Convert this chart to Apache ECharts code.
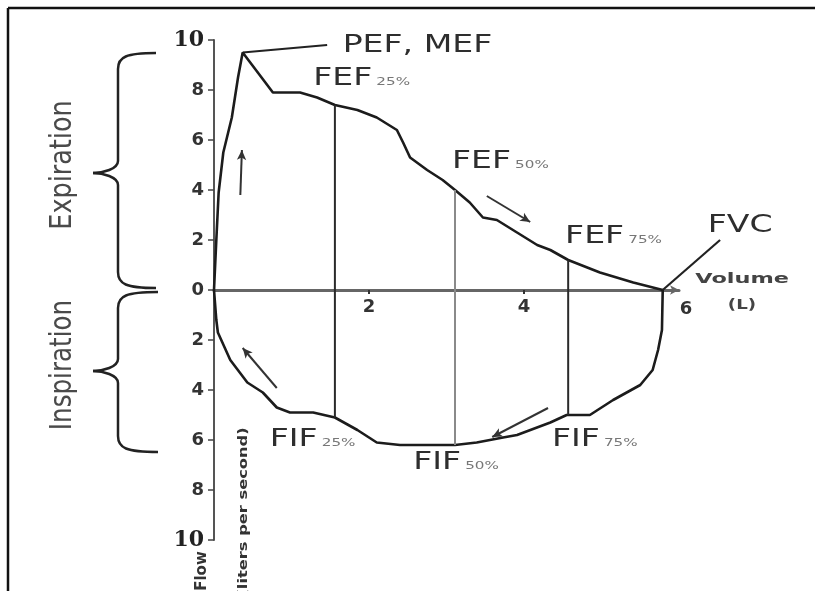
<!DOCTYPE html>
<html>
<head>
<meta charset="utf-8">
<script src="https://cdn.jsdelivr.net/npm/echarts@6/dist/echarts.min.js"></script>
<style>
  html, body { margin: 0; padding: 0; background: #fff; }
  #main { width: 815px; height: 591px; }
</style>
</head>
<body>
<div id="main"></div>
<script>
// Flow-volume loop: expiratory limb above zero, inspiratory limb below.
const expVolume = [0, 0.03, 0.06, 0.12, 0.23, 0.31, 0.37, 0.76, 1.11, 1.33, 1.56, 1.85, 2.10, 2.36, 2.44, 2.53, 2.75, 2.95, 3.11, 3.30, 3.47, 3.65, 3.91, 4.17, 4.34, 4.57, 4.98, 5.41, 5.79];
const expFlow   = [0, 2.0, 3.9, 5.5, 6.9, 8.5, 9.5, 7.9, 7.9, 7.7, 7.4, 7.2, 6.9, 6.4, 5.9, 5.3, 4.8, 4.4, 4.0, 3.5, 2.9, 2.8, 2.3, 1.8, 1.6, 1.2, 0.7, 0.3, 0];

const inspVolume = [0, 0.03, 0.05, 0.21, 0.43, 0.63, 0.81, 0.98, 1.28, 1.56, 1.85, 2.10, 2.40, 2.83, 3.11, 3.39, 3.73, 3.91, 4.34, 4.55, 4.85, 5.15, 5.50, 5.66, 5.73, 5.78, 5.79];
const inspFlow   = [0, -1.2, -1.7, -2.8, -3.7, -4.1, -4.7, -4.9, -4.9, -5.1, -5.6, -6.1, -6.2, -6.2, -6.2, -6.1, -5.9, -5.8, -5.3, -5.0, -5.0, -4.4, -3.8, -3.2, -2.4, -1.6, 0];

// 25 %, 50 %, 75 % of vital capacity: expiratory and inspiratory flows there
const markVolume = [1.56, 3.11, 4.57];
const fefValues  = [7.4, 4.0, 1.2];
const fifValues  = [-5.1, -6.2, -5.0];
const markPct    = ['25%', '50%', '75%'];

const peak = [0.37, 9.5];
const fvc  = [5.79, 0];

const xTickValues  = [2, 4];
const xLabelValues = [2, 4, 6];

const pairs = (xs, ys) => xs.map((x, i) => [x, ys[i]]);

const chart = echarts.init(document.getElementById('main'));

const curveStyle = { color: '#1c1c1c', width: 2.6 };
const txtFont = "'DejaVu Sans', Verdana, sans-serif";

// text callouts placed in data space (left edge, vertical middle)
const notes = [
  { at: [1.66, 9.76], main: 'PEF, MEF', size: 24 },
  { at: [1.28, 8.44], main: 'FEF', sub: markPct[0] },
  { at: [3.07, 5.12], main: 'FEF', sub: markPct[1] },
  { at: [4.53, 2.12], main: 'FEF', sub: markPct[2] },
  { at: [6.37, 2.56], main: 'FVC', size: 24 },
  { at: [6.21, 0.44], main: 'Volume', size: 14, bold: true, scale: 1.6 },
  { at: [6.63, -0.6], main: '(L)', size: 14, bold: true, scale: 1.3 },
  { at: [0.72, -6.0], main: 'FIF', sub: markPct[0] },
  { at: [2.57, -6.92], main: 'FIF', sub: markPct[1] },
  { at: [4.36, -6.0], main: 'FIF', sub: markPct[2] }
];

// leader lines: [x1, y1, x2, y2]
const leaders = [
  [peak[0], peak[1], 1.46, 9.8],
  [fvc[0], fvc[1], 6.53, 2.0]
];

// direction arrows: [from, to]
const arrows = [
  [[0.34, 3.8], [0.36, 5.6]],
  [[3.52, 3.76], [4.08, 2.72]],
  [[0.81, -3.92], [0.37, -2.32]],
  [[4.31, -4.72], [3.59, -5.88]]
];

const markLineSeries = markVolume.map((v, i) => ({
  type: 'line', silent: true, showSymbol: false,
  data: [[v, fefValues[i]], [v, fifValues[i]]],
  lineStyle: { color: i === 1 ? '#8a8a8a' : '#2a2a2a', width: 2 }
}));

// curly brace built from straight and bezier pieces
function brace(xTip, xBar, xEnd, yTop, yMid, yBot) {
  const st = { stroke: '#222', lineWidth: 2.5, fill: null };
  return [
    { type: 'bezierCurve', shape: { x1: xEnd, y1: yTop, cpx1: xBar + 8, cpy1: yTop, cpx2: xBar, cpy2: yTop + 4, x2: xBar, y2: yTop + 16 }, style: st },
    { type: 'line', shape: { x1: xBar, y1: yTop + 16, x2: xBar, y2: yMid - 12 }, style: st },
    { type: 'bezierCurve', shape: { x1: xBar, y1: yMid - 12, cpx1: xBar, cpy1: yMid - 4, cpx2: xTip + 10, cpy2: yMid, x2: xTip, y2: yMid }, style: st },
    { type: 'bezierCurve', shape: { x1: xTip, y1: yMid, cpx1: xTip + 10, cpy1: yMid, cpx2: xBar, cpy2: yMid + 4, x2: xBar, y2: yMid + 12 }, style: st },
    { type: 'line', shape: { x1: xBar, y1: yMid + 12, x2: xBar, y2: yBot - 16 }, style: st },
    { type: 'bezierCurve', shape: { x1: xBar, y1: yBot - 16, cpx1: xBar, cpy1: yBot - 4, cpx2: xBar + 8, cpy2: yBot, x2: xEnd, y2: yBot }, style: st }
  ];
}

const option = {
  backgroundColor: '#fff',
  animation: false,
  grid: { left: 214, right: 136, top: 40, bottom: 51 },
  xAxis: {
    type: 'value', min: 0, max: 6, interval: 2,
    axisLine: { onZero: true, symbol: ['none', 'arrow'], symbolSize: [7, 9], lineStyle: { color: '#666', width: 3 } },
    axisTick: { show: true, length: 4, customValues: xTickValues, lineStyle: { color: '#333', width: 2 } },
    axisLabel: { show: false },
    splitLine: { show: false }
  },
  yAxis: {
    type: 'value', min: -10, max: 10, interval: 2,
    axisLine: { show: true, lineStyle: { color: '#555', width: 2 } },
    axisTick: { show: true, length: 6, lineStyle: { color: '#444', width: 1.5 } },
    axisLabel: {
      margin: 10, fontSize: 18, fontWeight: 'bold', color: '#333', fontFamily: txtFont,
      formatter: v => (Math.abs(v) === 10 ? '{t|10}' : String(Math.abs(v))),
      rich: { t: { fontSize: 22, fontWeight: 'bold', color: '#222', fontFamily: "'DejaVu Serif', serif" } }
    },
    splitLine: { show: false }
  },
  series: [
    { type: 'line', name: 'Expiration', showSymbol: false, data: pairs(expVolume, expFlow), lineStyle: curveStyle },
    { type: 'line', name: 'Inspiration', showSymbol: false, data: pairs(inspVolume, inspFlow), lineStyle: curveStyle },
    ...markLineSeries,
    {
      // leader lines may reach past the plotting area
      type: 'custom', silent: true, clip: false, data: leaders,
      renderItem: (params, api) => {
        const a = api.coord([api.value(0), api.value(1)]);
        const b = api.coord([api.value(2), api.value(3)]);
        return { type: 'line', shape: { x1: a[0], y1: a[1], x2: b[0], y2: b[1] }, style: { stroke: '#222', lineWidth: 2.2 } };
      }
    },
    {
      type: 'line', silent: true, data: [],
      markLine: {
        silent: true, symbol: ['none', 'arrow'], symbolSize: [7, 10], animation: false,
        label: { show: false },
        lineStyle: { color: '#333', width: 2, type: 'solid' },
        data: arrows.map(a => [{ coord: a[0] }, { coord: a[1] }])
      }
    },
    {
      // volume tick labels, set just under the zero line
      type: 'custom', silent: true, clip: false, data: xLabelValues.map(v => [v, 0]),
      renderItem: (params, api) => {
        const p = api.coord([api.value(0), 0]);
        const last = api.value(0) === 6;
        return {
          type: 'text', x: p[0] + (last ? 7 : 0), y: p[1] + (last ? 10 : 8),
          style: { text: String(api.value(0)), fontSize: 18, fontWeight: 'bold', fill: '#333', fontFamily: txtFont, align: 'center', verticalAlign: 'top' }
        };
      }
    },
    {
      type: 'custom', silent: true, clip: false, data: notes.map(n => n.at),
      renderItem: (params, api) => {
        const n = notes[params.dataIndex];
        const p = api.coord([api.value(0), api.value(1)]);
        const style = n.sub
          ? {
              text: '{a|' + n.main + '}{b|' + n.sub + '}',
              rich: {
                a: { fontSize: 24, fill: '#2e2e2e', fontFamily: txtFont },
                b: { fontSize: 11, fill: '#777', fontFamily: txtFont, verticalAlign: 'bottom', padding: [0, 0, 3, 3] }
              }
            }
          : { text: n.main, fontSize: n.size, fontWeight: n.bold ? 'bold' : 'normal', fill: n.bold ? '#444' : '#2e2e2e', fontFamily: txtFont };
        style.align = 'left';
        style.verticalAlign = 'middle';
        return { type: 'text', x: p[0], y: p[1], scaleX: n.scale || 1.38, style: style };
      }
    }
  ],
  graphic: [
    // frame edges
    { type: 'line', shape: { x1: 8, y1: 8, x2: 815, y2: 8 }, style: { stroke: '#111', lineWidth: 2.5 } },
    { type: 'line', shape: { x1: 8, y1: 8, x2: 8, y2: 591 }, style: { stroke: '#111', lineWidth: 2.5 } },
    ...brace(93, 118, 156, 53, 173, 288),
    ...brace(93, 118, 158, 292, 371, 452),
    { type: 'text', x: 63, y: 165, rotation: Math.PI / 2, scaleX: 0.85, style: { text: 'Expiration', fontSize: 30, fill: '#4a4a4a', fontFamily: txtFont, align: 'center', verticalAlign: 'middle' } },
    { type: 'text', x: 63, y: 365, rotation: Math.PI / 2, scaleX: 0.82, style: { text: 'Inspiration', fontSize: 30, fill: '#4a4a4a', fontFamily: txtFont, align: 'center', verticalAlign: 'middle' } },
    { type: 'text', x: 202, y: 571, rotation: Math.PI / 2, style: { text: 'Flow', fontSize: 15, fontWeight: 'bold', fill: '#333', fontFamily: txtFont, align: 'center', verticalAlign: 'middle' } },
    { type: 'text', x: 244, y: 512, rotation: Math.PI / 2, scaleX: 1.25, style: { text: '(liters per second)', fontSize: 13, fontWeight: 'bold', fill: '#333', fontFamily: txtFont, align: 'center', verticalAlign: 'middle' } }
  ]
};

chart.setOption(option);
</script>
</body>
</html>
